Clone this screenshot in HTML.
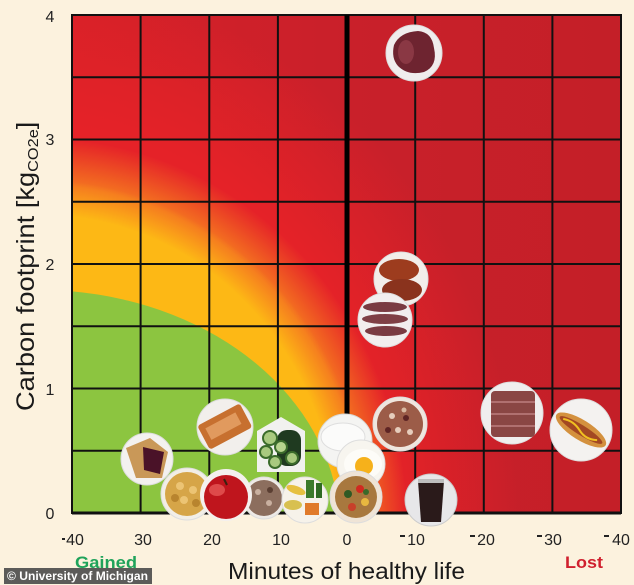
<!DOCTYPE html>
<html><head><meta charset="utf-8"><style>
html,body{margin:0;padding:0;background:#fcf2de;width:634px;height:585px;overflow:hidden;}
svg{display:block;overflow:hidden;}
text{font-family:"Liberation Sans",sans-serif;}
</style></head><body>
<svg width="634" height="585" viewBox="0 0 634 585" xmlns="http://www.w3.org/2000/svg">
<defs>
<linearGradient id="base" x1="0" y1="0" x2="1" y2="0">
<stop offset="0" stop-color="#d72128"/><stop offset="0.5" stop-color="#c9202a"/><stop offset="1" stop-color="#c41f28"/>
</linearGradient>
<radialGradient id="gRed" gradientUnits="userSpaceOnUse" cx="0" cy="0" r="1" gradientTransform="translate(40 530) scale(480 545)">
<stop offset="0" stop-color="#e52228"/><stop offset="0.74" stop-color="#e52228"/><stop offset="1" stop-color="#e52228" stop-opacity="0"/>
</radialGradient>
<radialGradient id="gOr" gradientUnits="userSpaceOnUse" cx="0" cy="0" r="1" gradientTransform="translate(40 530) scale(368 392)">
<stop offset="0" stop-color="#f47420"/><stop offset="0.88" stop-color="#f47420"/><stop offset="1" stop-color="#f47420" stop-opacity="0"/>
</radialGradient>
<radialGradient id="gYe" gradientUnits="userSpaceOnUse" cx="0" cy="0" r="1" gradientTransform="translate(40 530) scale(330 350)">
<stop offset="0" stop-color="#fdb815"/><stop offset="0.9" stop-color="#fdb815"/><stop offset="1" stop-color="#fdb815" stop-opacity="0"/>
</radialGradient>
</defs>
<rect width="634" height="585" fill="#fcf2de"/>
<rect x="72" y="15" width="549" height="498" fill="url(#base)"/>
<rect x="72" y="15" width="549" height="498" fill="url(#gRed)"/>
<rect x="72" y="15" width="549" height="498" fill="url(#gOr)"/>
<rect x="72" y="15" width="549" height="498" fill="url(#gYe)"/>
<path d="M72 513 L72 291.4 A300 240 0 0 1 339.25 513 Z" fill="#8cc540"/>
<!-- grid -->
<g stroke="#111" stroke-width="2">
<line x1="140.6" y1="15" x2="140.6" y2="513"/>
<line x1="209.3" y1="15" x2="209.3" y2="513"/>
<line x1="277.9" y1="15" x2="277.9" y2="513"/>
<line x1="415.2" y1="15" x2="415.2" y2="513"/>
<line x1="483.8" y1="15" x2="483.8" y2="513"/>
<line x1="552.4" y1="15" x2="552.4" y2="513"/>
<line x1="72" y1="77.25" x2="621" y2="77.25"/>
<line x1="72" y1="139.5" x2="621" y2="139.5"/>
<line x1="72" y1="201.75" x2="621" y2="201.75"/>
<line x1="72" y1="264" x2="621" y2="264"/>
<line x1="72" y1="326.25" x2="621" y2="326.25"/>
<line x1="72" y1="388.5" x2="621" y2="388.5"/>
<line x1="72" y1="450.75" x2="621" y2="450.75"/>
</g>
<rect x="72" y="15" width="549" height="498" fill="none" stroke="#111" stroke-width="2"/>
<line x1="72" y1="513" x2="621" y2="513" stroke="#111" stroke-width="3"/>
<line x1="347" y1="15" x2="347" y2="513" stroke="#000" stroke-width="5"/>

<!-- foods -->
<g><circle cx="147" cy="459" r="26" fill="#f3f1ef" stroke="#ddd" stroke-width="1"/>
<path d="M126 448 L150 438 L168 452 L162 478 L136 478 Z" fill="#c99858"/>
<path d="M143 447 L164 452 L160 474 L144 470 Z" fill="#4a1228"/></g>
<g><circle cx="225" cy="427" r="28" fill="#f2efec" stroke="#ddd"/>
<g transform="rotate(-28 225 427)"><rect x="201" y="413" width="48" height="27" rx="3" fill="#c7702f"/><rect x="207" y="419" width="34" height="13" fill="#e19a5e"/></g></g>
<g><polygon points="257,431 281,417 305,431 305,472 257,472" fill="#f1f1ef"/>
<rect x="277" y="430" width="24" height="36" rx="10" fill="#1f3a20"/>
<circle cx="270" cy="438" r="7" fill="#a9c97f" stroke="#3b6b2b" stroke-width="2"/>
<circle cx="266" cy="452" r="6" fill="#a9c97f" stroke="#3b6b2b" stroke-width="2"/>
<circle cx="281" cy="447" r="6" fill="#b8d48e" stroke="#3b6b2b" stroke-width="2"/>
<circle cx="275" cy="462" r="6" fill="#a9c97f" stroke="#3b6b2b" stroke-width="2"/>
<circle cx="292" cy="458" r="6" fill="#a9c97f" stroke="#3b6b2b" stroke-width="2"/></g>
<g><circle cx="187" cy="494" r="26" fill="#f2eee6" stroke="#ddd"/>
<circle cx="187" cy="494" r="22" fill="#d6a548"/>
<circle cx="180" cy="486" r="4" fill="#ecc474"/><circle cx="193" cy="490" r="4" fill="#ecc474"/><circle cx="184" cy="500" r="4" fill="#ecc474"/><circle cx="196" cy="503" r="4" fill="#b8842e"/><circle cx="175" cy="498" r="4" fill="#b8842e"/></g>
<g><circle cx="264" cy="498" r="21" fill="#eeeae6" stroke="#ddd"/>
<circle cx="264" cy="498" r="18" fill="#8c6e5e"/>
<circle cx="258" cy="492" r="3" fill="#c9b0a0"/><circle cx="269" cy="503" r="3" fill="#c9b0a0"/><circle cx="270" cy="490" r="3" fill="#5a3e32"/></g>
<g><circle cx="226" cy="495" r="26" fill="#f4f0ee"/>
<circle cx="226" cy="497" r="22" fill="#bf151d"/>
<ellipse cx="217" cy="490" rx="8" ry="6" fill="#de4a4a"/>
<path d="M224 479 L227 485" stroke="#3a2210" stroke-width="2"/></g>
<g><circle cx="305" cy="500" r="23" fill="#f6f2ea" stroke="#ddd"/>
<ellipse cx="296" cy="490" rx="10" ry="4" fill="#e6c040" transform="rotate(20 296 490)"/>
<rect x="306" y="480" width="8" height="18" fill="#3c7a2a"/><rect x="316" y="483" width="6" height="15" fill="#2f6a22"/>
<ellipse cx="293" cy="505" rx="9" ry="5" fill="#d8c050"/>
<rect x="305" y="503" width="14" height="12" fill="#e07a2a"/></g>
<g><circle cx="345" cy="441" r="27" fill="#f4f4f2" stroke="#d8d8d6"/>
<ellipse cx="343" cy="437" rx="22" ry="14" fill="#fbfbfa" stroke="#dedede"/></g>
<g><circle cx="400" cy="424" r="27" fill="#efe6de" stroke="#ddd"/>
<circle cx="400" cy="424" r="23" fill="#9c5c48"/>
<circle cx="392" cy="416" r="3" fill="#e6cdbc"/><circle cx="406" cy="418" r="3" fill="#5e2424"/><circle cx="398" cy="430" r="3" fill="#e6cdbc"/><circle cx="410" cy="432" r="3" fill="#e6cdbc"/><circle cx="388" cy="430" r="3" fill="#5e2424"/><circle cx="404" cy="410" r="2.5" fill="#d8b8a0"/></g>
<g><circle cx="361" cy="464" r="24" fill="#f7f5ef" stroke="#ddd"/>
<ellipse cx="363" cy="464" rx="19" ry="15" fill="#fdfcf8"/>
<circle cx="364" cy="466" r="9" fill="#f6b11b"/></g>
<g><circle cx="356" cy="497" r="26" fill="#efe4d6" stroke="#ddd"/>
<circle cx="356" cy="497" r="21" fill="#a8783e"/>
<circle cx="360" cy="489" r="4" fill="#d02a20"/><circle cx="348" cy="494" r="4" fill="#2f5a24"/><circle cx="365" cy="502" r="4" fill="#e8b840"/><circle cx="352" cy="507" r="4" fill="#c8402a"/><circle cx="366" cy="492" r="3" fill="#3a6a2a"/></g>
<g><circle cx="431" cy="500" r="26" fill="#e7e7e9" stroke="#ccc"/>
<path d="M418 481 L444 481 L441 522 L421 522 Z" fill="#2a1a1a"/>
<rect x="418" y="479" width="26" height="4" fill="#bdbdbd"/></g>
<g><circle cx="401" cy="279" r="27" fill="#f2eeea" stroke="#ddd"/>
<ellipse cx="399" cy="270" rx="20" ry="11" fill="#9d3c1e"/>
<ellipse cx="402" cy="290" rx="20" ry="11" fill="#8a331d"/></g>
<g><circle cx="385" cy="320" r="27" fill="#f2eeee" stroke="#ddd"/>
<ellipse cx="385" cy="307" rx="22" ry="5" fill="#7a3b42"/>
<ellipse cx="385" cy="319" rx="23" ry="5" fill="#7f3f45"/>
<ellipse cx="386" cy="331" rx="21" ry="5" fill="#7a3b42"/></g>
<g><circle cx="414" cy="53" r="28" fill="#f0eded" stroke="#ddd"/>
<path d="M394 45 Q400 32 418 31 Q432 32 434 48 Q438 66 424 72 Q408 76 398 66 Q391 58 394 45 Z" fill="#6e2430"/>
<ellipse cx="406" cy="52" rx="8" ry="12" fill="#8a3844"/></g>
<g><circle cx="512" cy="413" r="31" fill="#f0eeee" stroke="#ddd"/>
<rect x="491" y="391" width="44" height="46" rx="4" fill="#8a4644"/>
<line x1="491" y1="402" x2="535" y2="402" stroke="#b07070" stroke-width="2"/>
<line x1="491" y1="414" x2="535" y2="414" stroke="#b07070" stroke-width="2"/>
<line x1="491" y1="426" x2="535" y2="426" stroke="#b07070" stroke-width="2"/></g>
<g><circle cx="581" cy="430" r="31" fill="#f4f2f0" stroke="#ddd"/>
<g transform="rotate(32 581 430)"><ellipse cx="581" cy="430" rx="29" ry="10" fill="#d4913e"/><ellipse cx="581" cy="430" rx="25" ry="5" fill="#a34822"/><path d="M560 430 Q570 426 580 431 Q590 436 600 430" stroke="#f0c020" stroke-width="2" fill="none"/></g></g>

<!-- y ticks -->
<g font-size="16" fill="#222" text-anchor="middle">
<text x="50" y="22">4</text>
<text x="50" y="145">3</text>
<text x="50" y="270">2</text>
<text x="50" y="395">1</text>
<text x="50" y="519">0</text>
</g>
<!-- x ticks -->
<g font-size="16" fill="#222" text-anchor="middle">
<text x="75" y="545">40</text>
<text x="143" y="545">30</text>
<text x="212" y="545">20</text>
<text x="281" y="545">10</text>
<text x="347" y="545">0</text>
<text x="416" y="545">10</text>
<text x="486" y="545">20</text>
<text x="553" y="545">30</text>
<text x="621" y="545">40</text>
</g>
<g fill="#222">
<rect x="62" y="538" width="3" height="2"/>
<rect x="400" y="535" width="5" height="2"/>
<rect x="470" y="535" width="5" height="2"/>
<rect x="537" y="535" width="5" height="2"/>
<rect x="604" y="535" width="5" height="2"/>
</g>
<!-- axis titles -->
<text x="228" y="579" font-size="23.5" fill="#1a1a1a" textLength="237" lengthAdjust="spacingAndGlyphs">Minutes of healthy life</text>
<text transform="translate(34 411) rotate(-90) scale(1.09 1)" font-size="25" fill="#1a1a1a">Carbon footprint [kg<tspan font-size="15" dy="4">CO2e</tspan><tspan dy="-4">]</tspan></text>
<text x="75" y="568" font-size="17" font-weight="bold" fill="#1fa35a" textLength="62" lengthAdjust="spacingAndGlyphs">Gained</text>
<text x="565" y="568" font-size="17" font-weight="bold" fill="#d0202e" textLength="38" lengthAdjust="spacingAndGlyphs">Lost</text>
<!-- credit -->
<rect x="4" y="568" width="148" height="16" fill="#4a4a4a" opacity="0.9"/>
<text x="7" y="580" font-size="12" font-weight="bold" fill="#fff" textLength="141" lengthAdjust="spacingAndGlyphs">© University of Michigan</text>
</svg>
</body></html>
